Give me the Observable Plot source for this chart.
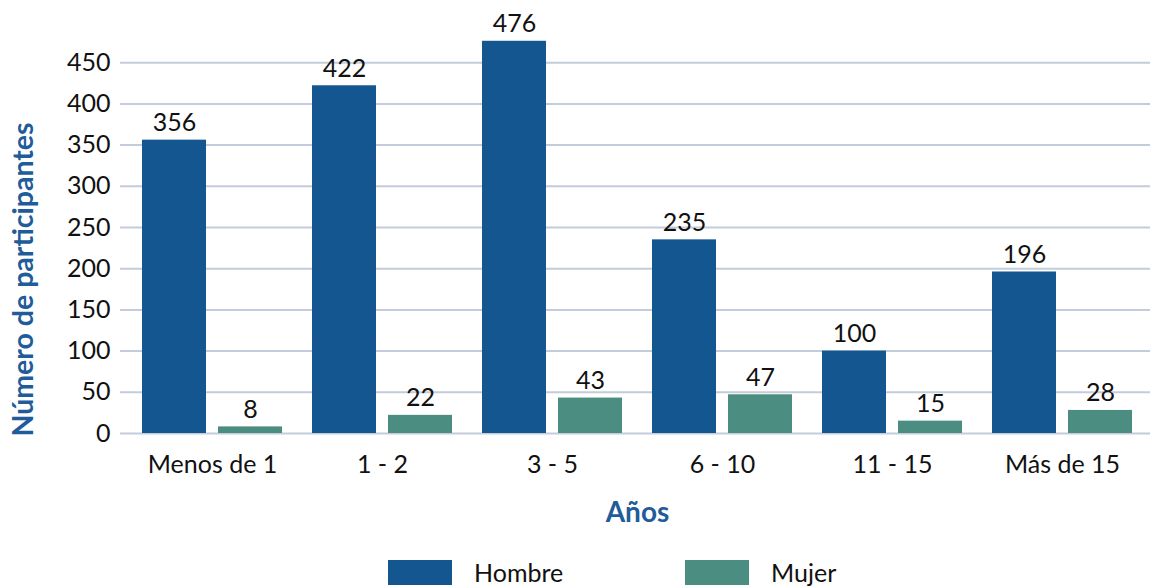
<!DOCTYPE html>
<html>
<head>
<meta charset="utf-8">
<script src="https://cdn.jsdelivr.net/npm/d3@7"></script>
<script src="https://cdn.jsdelivr.net/npm/@observablehq/plot@0.6"></script>
<style>
  body { margin: 0; background: #fff; font-family: Lato, "Open Sans", sans-serif; }
  #legend { display: flex; align-items: center; height: 42px; padding-left: 388px; padding-top: 18px; font-size: 25px; color: #111; }
  .sw { width: 64px; height: 25px; margin-right: 22px; }
  .it { display: flex; align-items: center; }
</style>
</head>
<body>
<div id="chart"></div>
<div id="legend"></div>
<script>
const categories = ["Menos de 1", "1 - 2", "3 - 5", "6 - 10", "11 - 15", "Más de 15"];
const hombre = [356, 422, 476, 235, 100, 196];
const mujer = [8, 22, 43, 47, 15, 28];
const yTicks = [0, 50, 100, 150, 200, 250, 300, 350, 400, 450];
const series = ["Hombre", "Mujer"];
const colors = ["#14568F", "#4B8E81"];

const hData = categories.map((c, i) => ({cat: c, value: hombre[i]}));
const mData = categories.map((c, i) => ({cat: c, value: mujer[i]}));

const font = "Lato, 'Open Sans', sans-serif";
const chart = Plot.plot({
  width: 1150,
  height: 533,
  marginLeft: 126,
  marginRight: 2,
  marginTop: 21,
  marginBottom: 100,
  style: {fontFamily: font, fontSize: "25px", color: "#111", background: "#fff"},
  x: {domain: categories, paddingInner: 0.178, paddingOuter: 0.089, label: null},
  y: {domain: [0, 500], label: null},
  marks: [
    Plot.ruleY(yTicks, {stroke: "#C3CCDA", strokeWidth: 2, insetLeft: -6, insetRight: -2}),
    Plot.barY(hData, {x: "cat", y: "value", fill: colors[0], insetRight: 76}),
    Plot.barY(mData, {x: "cat", y: "value", fill: colors[1], insetLeft: 76}),
    Plot.text(hData, {x: "cat", y: "value", text: d => String(d.value), dx: -38, dy: -9, lineAnchor: "bottom", fontSize: 25, fill: "#111"}),
    Plot.text(mData, {x: "cat", y: "value", text: d => String(d.value), dx: 38, dy: -9, lineAnchor: "bottom", fontSize: 25, fill: "#111"}),
    Plot.axisY({ticks: yTicks, tickSize: 0, tickPadding: 16, label: null, fontSize: 25}),
    Plot.axisX({tickSize: 0, tickPadding: 22, label: null, fontSize: 25}),
    Plot.text(["Años"], {frameAnchor: "bottom", dy: 80, lineAnchor: "middle", fontWeight: "bold", fontSize: 28, fill: "#1F5C99"}),
    Plot.text(["Número de participantes"], {frameAnchor: "left", textAnchor: "middle", dx: -103, dy: 52, rotate: -90, lineAnchor: "middle", fontWeight: "bold", fontSize: 28.5, fill: "#1F5C99"})
  ]
});
document.getElementById("chart").appendChild(chart);

const legend = document.getElementById("legend");
series.forEach((s, i) => {
  const it = document.createElement("div");
  it.className = "it";
  it.style.width = i === 0 ? "297px" : "auto";
  const sw = document.createElement("div");
  sw.className = "sw";
  sw.style.background = colors[i];
  const t = document.createElement("span");
  t.textContent = s;
  it.appendChild(sw);
  it.appendChild(t);
  legend.appendChild(it);
});
</script>
</body>
</html>
